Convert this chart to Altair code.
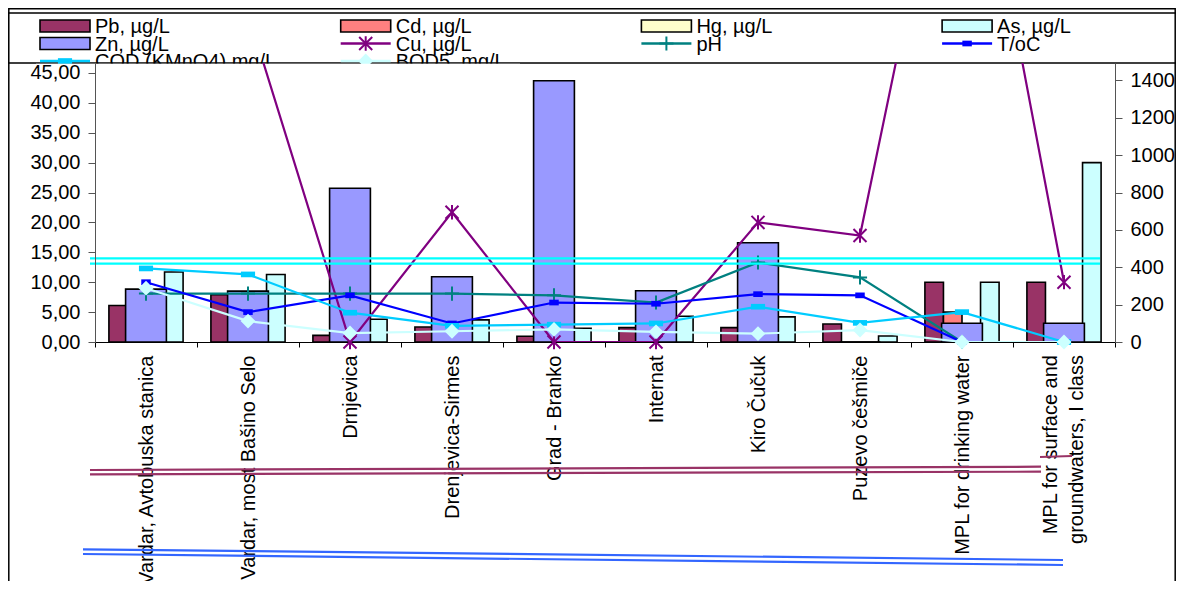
import altair as alt
import pandas as pd

# ---------------- data ----------------
CATEGORIES = [
    "Vardar, Avtobuska stanica",
    "Vardar, most Bašino Selo",
    "Drnjevica",
    "Drenjevica-Sirmes",
    "Grad - Branko",
    "Internat",
    "Kiro Čučuk",
    "Puzevo češmiče",
    "MPL for drinking water",
    "MPL for surface and\ngroundwaters, I class",
]
PB = [6.1, 7.9, 1.1, 2.5, 0.95, 2.4, 2.4, 3.0, 10.0, 10.0]
CD = [0, 0, 0, 0, 0, 0, 0, 0, 5.0, 0]
HG = [0, 0, 0, 0, 0, 0, 0, 0, 1.0, 0]
AS = [11.7, 11.3, 3.8, 3.7, 2.3, 4.3, 4.2, 1.0, 10.0, 30.0]
ZN = [283, 272, 823, 349, 1398, 274, 531, 0, 100, 100]          # right axis
CU = [60.0, 55.0, 0, 21.7, 0, 0, 20.0, 17.8, 100.0, 10.0]
PH = [8.1, 8.1, 8.1, 8.1, 7.8, 6.6, 13.3, 10.8, 0, None]
TEMP = [10.0, 5.0, 7.8, 3.1, 6.6, 6.4, 8.0, 7.8, 0, None]
COD = [12.3, 11.3, 4.9, 2.7, 2.9, 3.1, 5.9, 3.2, 5.0, 0]
BOD5 = [9.0, 3.5, 1.5, 1.8, 2.1, 1.7, 1.4, 2.0, 0, 0]
REF_LINES = [14.0, 13.1]   # the two cyan drawn lines (left-axis units)

LEGEND_LABELS = ["Pb, µg/L", "Cd, µg/L", "Hg, µg/L", "As, µg/L", "Zn, µg/L",
                 "Cu, µg/L", "pH", "T/oC", "COD (KMnO4) mg/L", "BOD5, mg/L"]

# ---------------- styling ----------------
FONT = "Liberation Sans"
FS = 20
W, H = 1020, 279
FULL_H = 299.0
LEFT_MAX = 50 * H / FULL_H
RIGHT_MAX = 1600 * H / FULL_H

BAR_KEYS = ["Pb", "Cd", "Hg", "As"]
BAR_COLORS = {"Pb": "#993366", "Cd": "#FF8080", "Hg": "#FFFFCC", "As": "#CCFFFF", "Zn": "#9999FF"}

ASTERISK = "M-1,-1L1,1M-1,1L1,-1M0,-1.1L0,1.1"
PLUS = "M-1,0L1,0M0,-1L0,1"
SMALLRECT = "M-1,-0.6L1,-0.6L1,0.6L-1,0.6Z"
BARMARK = "M-1,-0.4L1,-0.4L1,0.4L-1,0.4Z"
LINE_STYLE = {
    "Cu": dict(color="#800080", shape=ASTERISK, size=170, filled=False),
    "pH": dict(color="#008080", shape=PLUS, size=200, filled=False),
    "T": dict(color="#0000FF", shape=SMALLRECT, size=90, filled=True),
    "COD": dict(color="#00CCFF", shape=BARMARK, size=200, filled=True),
    "BOD5": dict(color="#CCFFFF", shape="diamond", size=220, filled=True),
}
LINE_SERIES = [("Cu", CU), ("pH", PH), ("T", TEMP), ("COD", COD), ("BOD5", BOD5)]

x_scale = alt.Scale(domain=CATEGORIES, paddingInner=0, paddingOuter=0)
left_scale = alt.Scale(domain=[0, LEFT_MAX], nice=False, zero=False)
right_scale = alt.Scale(domain=[0, RIGHT_MAX], nice=False, zero=False)


def xenc(axis=None):
    return alt.X("cat:N", sort=CATEGORIES, scale=x_scale, axis=axis, title=None)


X_TICK, X_PAD = 5, 8
x_axis = alt.Axis(
    labelAngle=-90, labelAlign="right", labelBaseline="middle",
    labelExpr="datum.index == 1 ? '' : datum.label",
    labelFont=FONT, labelFontSize=FS,
    labelColor="black", labelLimit=600, labelPadding=X_PAD,
    labelOverlap=False, tickBand="extent", tickSize=X_TICK, tickColor="black",
    domainColor="black", title=None,
)
left_axis = alt.Axis(
    orient="left", values=list(range(0, 50, 5)),
    labelExpr="replace(format(datum.value, '.2f'), '.', ',')",
    labelFont=FONT, labelFontSize=FS, labelColor="black", labelPadding=8,
    tickSize=7, tickColor="#555555", domainColor="#555555", grid=False,
    title=None, zindex=1,
)
right_axis = alt.Axis(
    orient="right", values=list(range(0, 1600, 200)), format="d",
    labelFont=FONT, labelFontSize=FS, labelColor="black", labelPadding=8,
    tickSize=7, tickColor="#555555", domainColor="#555555", grid=False,
    title=None, zindex=1,
)

ONE = pd.DataFrame({"k": [0]})


def rect(x, x2, y, y2, **mk):
    return alt.Chart(ONE).mark_rect(**mk).encode(
        x=alt.value(x), x2=alt.value(x2), y=alt.value(y), y2=alt.value(y2))


def seg(x, y, x2, y2, color, width=2.2):
    return alt.Chart(ONE).mark_rule(color=color, strokeWidth=width).encode(
        x=alt.value(x), y=alt.value(y), x2=alt.value(x2), y2=alt.value(y2))


layers = []

# ---------------- legend ----------------
layers.append(rect(-87, 1110, -50, 0, fill="white", stroke="black", strokeWidth=1.5))

leg_rows = []
keys = ["Pb", "Cd", "Hg", "As", "Zn", "Cu", "pH", "T", "COD", "BOD5"]
for i, (key, label) in enumerate(zip(keys, LEGEND_LABELS)):
    col, row = i % 4, i // 4
    sx = -55 + col * 300.7
    cy = -37 + row * 17.5
    kind = "bar" if key in BAR_COLORS else "line"
    color = BAR_COLORS[key] if kind == "bar" else LINE_STYLE[key]["color"]
    leg_rows.append(dict(key=key, label=label, kind=kind, color=color,
                         sx=sx, sx2=sx + 50, mx=sx + 25, cy=cy,
                         y1=cy - 6, y2=cy + 6, tx=sx + 55, ty=cy + 7))
leg_df = pd.DataFrame(leg_rows)

layers.append(
    alt.Chart(leg_df).transform_filter("datum.kind == 'bar'")
    .mark_rect(stroke="black", strokeWidth=1.6)
    .encode(x=alt.X("sx:Q", scale=None), x2="sx2:Q",
            y=alt.Y("y1:Q", scale=None), y2="y2:Q",
            fill=alt.Fill("color:N", scale=None))
)
layers.append(
    alt.Chart(leg_df).transform_filter("datum.kind == 'line'")
    .mark_rule(strokeWidth=2.5)
    .encode(x=alt.X("sx:Q", scale=None), x2="sx2:Q",
            y=alt.Y("cy:Q", scale=None),
            color=alt.Color("color:N", scale=None))
)
for r in leg_rows:
    if r["kind"] == "line":
        st = LINE_STYLE[r["key"]]
        layers.append(
            alt.Chart(ONE).mark_point(shape=st["shape"], size=st["size"], filled=st["filled"],
                                      color=st["color"], strokeWidth=2, opacity=1)
            .encode(x=alt.value(r["mx"]), y=alt.value(r["cy"]))
        )
layers.append(
    alt.Chart(leg_df).mark_text(align="left", baseline="alphabetic", font=FONT,
                                fontSize=FS, color="black")
    .encode(x=alt.X("tx:Q", scale=None), y=alt.Y("ty:Q", scale=None), text="label:N")
)
# hide the overflowing bottom part of the third legend row (clipped in the original)
layers.append(rect(-59, 425, 0.8, 10, fill="white"))

# ---------------- bars ----------------
bars_df = pd.DataFrame([
    {"cat": c, "series": s, "v": v}
    for s, vals in zip(BAR_KEYS, [PB, CD, HG, AS])
    for c, v in zip(CATEGORIES, vals)
])
layers.append(
    alt.Chart(bars_df).mark_bar(stroke="black", strokeWidth=1.6, clip=True).encode(
        x=xenc(x_axis),
        xOffset=alt.XOffset("series:N", sort=BAR_KEYS,
                            scale=alt.Scale(domain=BAR_KEYS, paddingInner=0, paddingOuter=0.75)),
        y=alt.Y("v:Q", scale=left_scale, axis=left_axis),
        color=alt.Color("series:N", legend=None,
                        scale=alt.Scale(domain=BAR_KEYS, range=[BAR_COLORS[k] for k in BAR_KEYS])),
    )
)
zn_df = pd.DataFrame({"cat": CATEGORIES, "v": ZN})
layers.append(
    alt.Chart(zn_df).mark_bar(fill=BAR_COLORS["Zn"], stroke="black", strokeWidth=1.6,
                              clip=True, width=alt.RelativeBandSize(0.4))
    .encode(x=xenc(), y=alt.Y("v:Q", scale=right_scale, axis=right_axis))
)

# two-line category label (centred as a block, like the original)
last_df = pd.DataFrame({"cat": [CATEGORIES[-1]]})
layers.append(
    alt.Chart(last_df).mark_text(angle=270, align="right", baseline="middle", lineBreak="\n",
                                 lineHeight=26, dy=-13, font=FONT, fontSize=FS, color="black")
    .encode(x=xenc(), y=alt.value(H + X_TICK + X_PAD), text="cat:N")
)

# ---------------- lines ----------------
for key, vals in LINE_SERIES:
    st = LINE_STYLE[key]
    df = pd.DataFrame({"cat": CATEGORIES, "v": vals})
    layers.append(
        alt.Chart(df).mark_line(color=st["color"], strokeWidth=2.2, clip=True)
        .encode(x=xenc(), y=alt.Y("v:Q", scale=left_scale, axis=None))
    )
    layers.append(
        alt.Chart(df).transform_filter(f"isValid(datum.v) && datum.v <= {LEFT_MAX}")
        .mark_point(shape=st["shape"], size=st["size"], filled=st["filled"],
                    color=st["color"], strokeWidth=2, opacity=1)
        .encode(x=xenc(), y=alt.Y("v:Q", scale=left_scale, axis=None))
    )

# cyan drawn lines
ref_df = pd.DataFrame({"v": REF_LINES})
layers.append(
    alt.Chart(ref_df).mark_rule(color="#00FFFF", strokeWidth=2.2)
    .encode(y=alt.Y("v:Q", scale=left_scale, axis=None), x=alt.value(-5), x2=alt.value(1005))
)

# outer frame
layers.append(rect(-86.2, 1080.2, -54.2, 600, fillOpacity=0, stroke="black", strokeWidth=1.5))

# stray drawing lines below the chart
MAROON = "#993366"
BLUE = "#3366FF"
layers.append(seg(-5, 407, 946, 403.7, MAROON))
layers.append(seg(-5, 411.3, 946, 408.7, MAROON))
layers.append(seg(945, 394, 977, 393, MAROON, 1.8))
layers.append(seg(-12, 486.3, 968, 497, BLUE))
layers.append(seg(-12, 491, 968, 502, BLUE))

chart = (
    alt.layer(*layers)
    .resolve_scale(x="independent", y="independent", color="independent", fill="independent")
    .properties(
        width=W, height=H,
        padding={"left": 87, "top": 55, "right": 61, "bottom": 239},
        autosize=alt.AutoSizeParams(type="none"),
        background="white",
    )
    .configure_view(stroke=None)
)

chart.save("out.html", embed_options={"renderer": "svg", "actions": False})
